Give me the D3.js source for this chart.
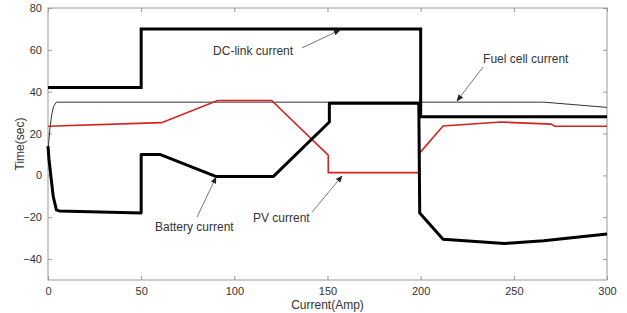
<!DOCTYPE html>
<html>
<head>
<meta charset="utf-8">
<script src="https://cdn.jsdelivr.net/npm/d3@7"></script>
<style>
  body { margin: 0; background: #fff; }
  text { font-family: "Liberation Sans", Arial, sans-serif; fill: #333; }
</style>
</head>
<body>
<div id="chart"></div>
<script>
// series, [current, value]
const dcLink = [[0,42],[50,42],[50,70],[200,70],[200,28],[300,28]]
const battery = [[0,14],[0.5,8],[1.5,0],[2.8,-10],[4.5,-16.5],[6,-17],[50,-18],[50,10],[60,10],
    [90,-0.5],[121,-0.5],[151,25.5],[151,34.5],[199,34.5],[199.5,-18],[212,-30.5],[245,-32.5],
    [266,-31.2],[300,-28]]
const fuelCell = [[0,12],[1,22],[2,29],[3,33],[4.5,35],[266,35],[300,32.5]]
const pv = [[0,23.5],[61,25.2],[91,35.8],[120,35.8],[150.4,9.7],[150.4,1.3],[199.3,1.3],
    [199.3,10.5],[212,23.6],[243,25.5],[270,24.5],[272,23.5],[300,23.5]]

const xTicks = [0, 50, 100, 150, 200, 250, 300]
const yTicks = [-40, -20, 0, 20, 40, 60, 80]

// annotations: label, text anchor, arrow start, arrow end (data units)
const notes = [
    {label: 'DC-link current', at: [88.6, 57.5], from: [136.3, 60.9], to: [156.7, 69.5]},
    {label: 'Fuel cell current', at: [233.5, 53.7], from: [233.5, 51.8], to: [219.5, 35.6]},
    {label: 'Battery current', at: [57.4, -26.6], from: [80, -19.9], to: [90.2, -0.8]},
    {label: 'PV current', at: [110, -22.3], from: [141.7, -17.6], to: [157.8, -0.3]}
]

const W = 627, H = 313
const m = {t: 8, r: 20, b: 33, l: 48}
const w = W - m.l - m.r, h = H - m.t - m.b

const svg = d3.select('#chart').append('svg')
    .attr('width', W).attr('height', H)

svg.append('defs').append('marker')
    .attr('id', 'head').attr('viewBox', '0 0 10 10')
    .attr('refX', 9).attr('refY', 5)
    .attr('markerWidth', 7).attr('markerHeight', 7)
    .attr('orient', 'auto')
  .append('path').attr('d', 'M0,1 L10,5 L0,9 z').attr('fill', '#222')

const g = svg.append('g').attr('transform', 'translate(' + m.l + ',' + m.t + ')')

const x = d3.scaleLinear().domain([0, 300]).range([0, w])
const y = d3.scaleLinear().domain([-50, 80]).range([h, 0])

// frame with inward ticks on all four sides
g.append('rect').attr('width', w).attr('height', h)
    .attr('fill', 'none').attr('stroke', '#999').attr('stroke-width', 1)

const axisStyle = sel => {
    sel.select('.domain').remove()
    sel.selectAll('.tick line').attr('stroke', '#999')
    sel.selectAll('.tick text').attr('fill', '#333')
        .style('font-size', '11px').style('font-family', '"Liberation Sans", Arial, sans-serif')
}

g.append('g').attr('transform', 'translate(0,' + h + ')')
    .call(d3.axisBottom(x).tickValues(xTicks).tickSizeInner(-4).tickSizeOuter(0).tickPadding(7))
    .call(axisStyle)
g.append('g')
    .call(d3.axisTop(x).tickValues(xTicks).tickSizeInner(-4).tickSizeOuter(0).tickFormat(''))
    .call(axisStyle)
g.append('g')
    .call(d3.axisLeft(y).tickValues(yTicks).tickSizeInner(-4).tickSizeOuter(0).tickPadding(6))
    .call(axisStyle)
g.append('g').attr('transform', 'translate(' + w + ',0)')
    .call(d3.axisRight(y).tickValues(yTicks).tickSizeInner(-4).tickSizeOuter(0).tickFormat(''))
    .call(axisStyle)

const line = d3.line().x(d => x(d[0])).y(d => y(d[1]))

g.append('path').datum(fuelCell).attr('d', line)
    .attr('fill', 'none').attr('stroke', '#333').attr('stroke-width', 1)
g.append('path').datum(pv).attr('d', line)
    .attr('fill', 'none').attr('stroke', '#d42222').attr('stroke-width', 1.6)
g.append('path').datum(dcLink).attr('d', line)
    .attr('fill', 'none').attr('stroke', '#000').attr('stroke-width', 3)
g.append('path').datum(battery).attr('d', line)
    .attr('fill', 'none').attr('stroke', '#000').attr('stroke-width', 3)
    .attr('stroke-linejoin', 'round')

// annotations
notes.forEach(n => {
    g.append('line')
        .attr('x1', x(n.from[0])).attr('y1', y(n.from[1]))
        .attr('x2', x(n.to[0])).attr('y2', y(n.to[1]))
        .attr('stroke', '#777').attr('stroke-width', 1)
        .attr('marker-end', 'url(#head)')
    g.append('text').attr('x', x(n.at[0])).attr('y', y(n.at[1]))
        .style('font-size', '12px').text(n.label)
})

// axis titles
svg.append('text').attr('x', m.l + w / 2).attr('y', 309)
    .attr('text-anchor', 'middle').style('font-size', '12px').text('Current(Amp)')
svg.append('text').attr('transform', 'translate(24,' + (m.t + h / 2) + ') rotate(-90)')
    .attr('text-anchor', 'middle').style('font-size', '12px').text('Time(sec)')
</script>
</body>
</html>
